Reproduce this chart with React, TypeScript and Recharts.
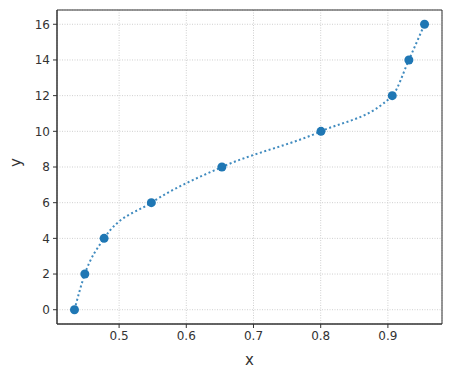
import {
  ComposedChart,
  Line,
  Scatter,
  XAxis,
  YAxis,
  CartesianGrid,
  ReferenceArea,
  Label,
} from "recharts";

// observed points
const X_VALUES = [0.4336, 0.449, 0.4777, 0.548, 0.653, 0.8004, 0.9065, 0.9312, 0.9545];
const Y_VALUES = [0, 2, 4, 6, 8, 10, 12, 14, 16];

const X_TICKS = [0.5, 0.6, 0.7, 0.8, 0.9];
const Y_TICKS = [0, 2, 4, 6, 8, 10, 12, 14, 16];

const X_DOMAIN = [0.4076, 0.9805];
const Y_DOMAIN = [-0.8, 16.8];

const points = X_VALUES.map((x, i) => ({ x, y: Y_VALUES[i] }));

const BLUE = "#1f77b4";
const FONT = "'DejaVu Sans', sans-serif";
const TICK = { fontSize: 12, fill: "#333", fontFamily: FONT };

export default function App() {
  return (
    <div style={{ position: "absolute", left: 0, top: 0, background: "#fff" }}>
      <ComposedChart
        width={450}
        height={377}
        data={points}
        margin={{ top: 10, right: 8, bottom: 0, left: 0 }}
      >
        <CartesianGrid stroke="#cfcfcf" strokeDasharray="1 1.5" />
        <XAxis
          dataKey="x"
          type="number"
          domain={X_DOMAIN}
          ticks={X_TICKS}
          allowDataOverflow
          tickFormatter={(v: number) => v.toFixed(1)}
          tick={TICK}
          tickSize={4}
          tickMargin={3}
          height={53}
          axisLine={{ stroke: "#333" }}
          tickLine={{ stroke: "#333" }}
        >
          <Label value="x" position="insideBottom" offset={12} style={{ fontSize: 15, fill: "#333", fontFamily: FONT }} />
        </XAxis>
        <YAxis
          dataKey="y"
          type="number"
          domain={Y_DOMAIN}
          ticks={Y_TICKS}
          allowDataOverflow
          tick={TICK}
          tickSize={4}
          tickMargin={3}
          width={57}
          axisLine={{ stroke: "#333" }}
          tickLine={{ stroke: "#333" }}
        >
          <Label value="y" angle={-90} position="insideLeft" offset={16} style={{ fontSize: 15, fill: "#333", fontFamily: FONT }} />
        </YAxis>
        <ReferenceArea
          x1={X_DOMAIN[0]}
          x2={X_DOMAIN[1]}
          y1={Y_DOMAIN[0]}
          y2={Y_DOMAIN[1]}
          fill="none"
          stroke="#333"
          strokeWidth={1}
        />
        <Line
          dataKey="y"
          type="monotone"
          stroke={BLUE}
          strokeOpacity={0.85}
          strokeWidth={2}
          strokeDasharray="2 2.6"
          dot={false}
          activeDot={false}
          isAnimationActive={false}
        />
        <Scatter dataKey="y" fill={BLUE} shape={(p: any) => <circle cx={p.cx} cy={p.cy} r={4.5} fill={BLUE} />} isAnimationActive={false} />
      </ComposedChart>
    </div>
  );
}
